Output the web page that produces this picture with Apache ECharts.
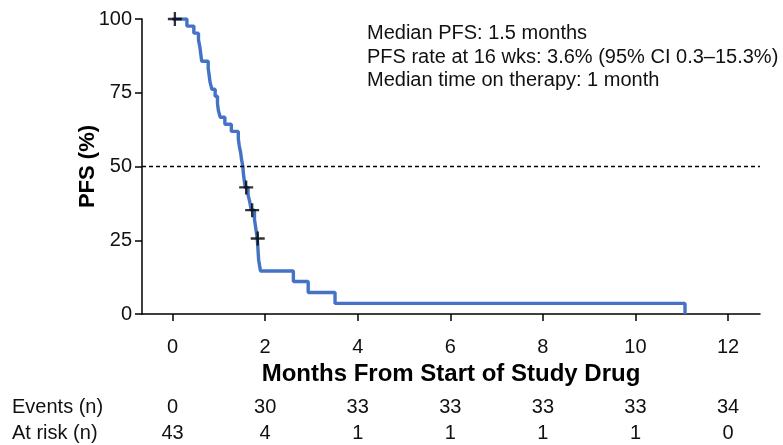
<!DOCTYPE html>
<html>
<head>
<meta charset="utf-8">
<script src="https://cdn.jsdelivr.net/npm/echarts@6/dist/echarts.min.js"></script>
<style>html,body{margin:0;padding:0;background:#fff;}#c{width:783px;height:445px;}</style>
</head>
<body>
<div id="c"></div>
<script>
const kmTimes = [0,0.31,0.46,0.56,0.59,0.61,0.63,0.77,0.79,0.81,0.85,0.92,0.97,0.99,1.03,1.13,1.27,1.42,1.44,1.47,1.49,1.52,1.53,1.55,1.57,1.63,1.67,1.70,1.77,1.80,1.83,1.86,1.90,2.61,2.93,3.51,11.07];
const kmPfs   = [100,97.6,95.2,92.9,90.5,88.1,85.7,83.3,81.0,78.6,76.2,73.8,71.4,69.0,66.7,64.3,61.9,59.5,57.1,54.8,52.4,50.0,47.6,45.2,42.9,40.5,37.8,35.2,32.0,28.8,25.6,18.3,14.6,11.0,7.3,3.6,0];
const censorTimes = [0.05,1.59,1.72,1.84];
const censorPfs   = [100,42.9,35.2,25.6];
const xTicks = [0,2,4,6,8,10,12];
const yTicks = [0,25,50,75,100];
const eventsN = [0,30,33,33,33,33,34];
const atRiskN = [43,4,1,1,1,1,0];
const medianLine = 50;
const annotation = ['Median PFS: 1.5 months','PFS rate at 16 wks: 3.6% (95% CI 0.3\u201315.3%)','Median time on therapy: 1 month'];

const FONT = 'Liberation Sans, Arial, sans-serif';
const XMIN = -0.66, XMAX = 12.69;
const chart = echarts.init(document.getElementById('c'), null, {renderer:'canvas'});

function tableAxis(values, offset){
  return {
    type:'value', min:XMIN, max:XMAX, position:'bottom', offset:offset,
    axisLine:{show:false}, axisTick:{show:false}, splitLine:{show:false},
    axisLabel:{customValues:xTicks, margin:0, fontFamily:FONT, fontSize:20, color:'#111',
      formatter:function(v){const i=xTicks.indexOf(Math.round(v));return i>=0?String(values[i]):'';}}
  };
}

const option = {
  animation:false,
  grid:{left:142,right:23,top:19,bottom:131,containLabel:false},
  xAxis:[{
    type:'value', min:XMIN, max:XMAX,
    name:'Months From Start of Study Drug', nameLocation:'middle', nameGap:48, nameMoveOverlap:false,
    nameTextStyle:{fontFamily:FONT,fontSize:24,fontWeight:'bold',color:'#000'},
    axisLine:{onZero:false,lineStyle:{color:'#000',width:1.5}},
    axisTick:{customValues:xTicks,length:7,lineStyle:{color:'#000',width:1.5}},
    axisLabel:{customValues:xTicks,margin:23,fontFamily:FONT,fontSize:20,color:'#111'},
    splitLine:{show:false}
  }, tableAxis(eventsN,83), tableAxis(atRiskN,109)],
  yAxis:{
    type:'value', min:0, max:100, interval:25,
    name:'PFS (%)', nameLocation:'middle', nameGap:43, nameRotate:90, nameMoveOverlap:false,
    nameTextStyle:{fontFamily:FONT,fontSize:22,fontWeight:'bold',color:'#000'},
    axisLine:{onZero:false,lineStyle:{color:'#000',width:1.5}},
    axisTick:{length:7,lineStyle:{color:'#000',width:1.5}},
    axisLabel:{margin:10,fontFamily:FONT,fontSize:20,color:'#111'},
    splitLine:{show:false}
  },
  graphic:[
    {type:'text',left:367,top:22,style:{text:annotation.join('\n'),fontFamily:FONT,fontSize:20,lineHeight:23.5,fill:'#111'}},
    {type:'text',left:12,top:397,style:{text:'Events (n)',fontFamily:FONT,fontSize:20,fill:'#111'}},
    {type:'text',left:12,top:423,style:{text:'At risk (n)',fontFamily:FONT,fontSize:20,fill:'#111'}}
  ],
  series:[
    {type:'line',step:'end',symbol:'none',data:kmTimes.map((t,i)=>[t,kmPfs[i]]),
     lineStyle:{color:'#4472C4',width:3.4},z:3,
     markLine:{silent:true,symbol:'none',label:{show:false},
       lineStyle:{color:'#000',type:[4,3],width:1.3},data:[{yAxis:medianLine}]}},
    {type:'scatter',data:censorTimes.map((t,i)=>[t,censorPfs[i]]),
     symbol:'path://M4,0h1.6v4h4v1.6h-4v4h-1.6v-4h-4v-1.6h4z',symbolSize:14,
     itemStyle:{color:'#000'},z:4}
  ]
};
chart.setOption(option);
</script>
</body>
</html>
